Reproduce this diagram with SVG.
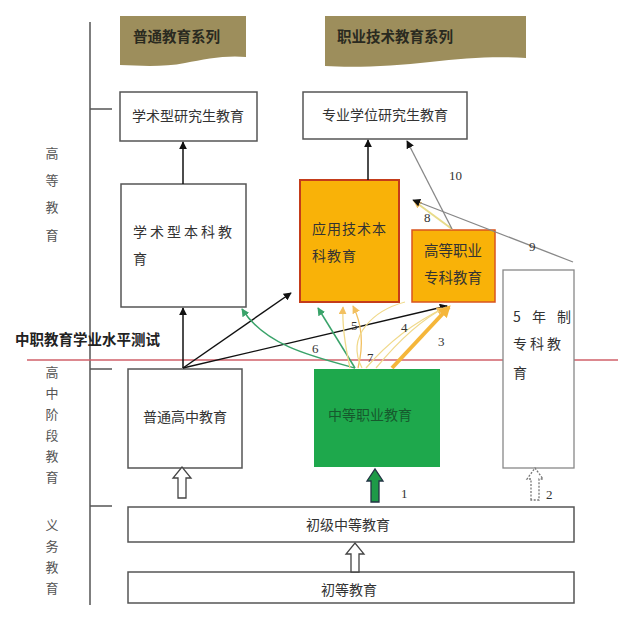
<svg xmlns="http://www.w3.org/2000/svg" width="640" height="632" viewBox="0 0 640 632">
<style>
text{font-family:"Noto Sans CJK SC","Liberation Sans",sans-serif;fill:#333;font-size:14px}
.box{fill:#fff;stroke:#555;stroke-width:1.5}
.lbl{font-size:13px;fill:#555}
.num{font-family:"Liberation Serif",serif;font-size:13px;fill:#333}
.ban{fill:#9d8e5c}
.bt{font-size:14.5px;font-weight:bold;fill:#2a2a20}
</style>
<defs>
<marker id="ab" viewBox="0 0 10 10" refX="9" refY="5" markerWidth="8" markerHeight="8" orient="auto" markerUnits="userSpaceOnUse"><path d="M0,0 L10,5 L0,10 Z" fill="#111"/></marker>
<marker id="ag" viewBox="0 0 10 10" refX="9" refY="5" markerWidth="8" markerHeight="8" orient="auto" markerUnits="userSpaceOnUse"><path d="M0,0 L10,5 L0,10 Z" fill="#3aa36a"/></marker>
<marker id="ay" viewBox="0 0 10 10" refX="9" refY="5" markerWidth="8" markerHeight="8" orient="auto" markerUnits="userSpaceOnUse"><path d="M0,0 L10,5 L0,10 Z" fill="#f2c060"/></marker>
<marker id="ao" viewBox="0 0 10 10" refX="8" refY="5" markerWidth="12" markerHeight="12" orient="auto" markerUnits="userSpaceOnUse"><path d="M0,0 L10,5 L0,10 Z" fill="#f5b63a"/></marker>
</defs>

<!-- frame -->
<g id="axis" stroke="#555" stroke-width="1.5" fill="none">
<line x1="90" y1="22" x2="90" y2="605"/>
<line x1="90" y1="109" x2="112" y2="109"/>
<line x1="90" y1="369" x2="112" y2="369"/>
<line x1="90" y1="506" x2="112" y2="506"/>
</g>
<g id="stage-labels" class="lbl">
<text class="lbl" x="52" y="158" text-anchor="middle">高</text>
<text class="lbl" x="52" y="185" text-anchor="middle">等</text>
<text class="lbl" x="52" y="212" text-anchor="middle">教</text>
<text class="lbl" x="52" y="240" text-anchor="middle">育</text>
<text class="lbl" x="52" y="377" text-anchor="middle">高</text>
<text class="lbl" x="52" y="398" text-anchor="middle">中</text>
<text class="lbl" x="52" y="419" text-anchor="middle">阶</text>
<text class="lbl" x="52" y="440" text-anchor="middle">段</text>
<text class="lbl" x="52" y="461" text-anchor="middle">教</text>
<text class="lbl" x="52" y="482" text-anchor="middle">育</text>
<text class="lbl" x="52" y="530" text-anchor="middle">义</text>
<text class="lbl" x="52" y="551" text-anchor="middle">务</text>
<text class="lbl" x="52" y="572" text-anchor="middle">教</text>
<text class="lbl" x="52" y="593" text-anchor="middle">育</text>
</g>

<line id="test-line" x1="27" y1="360" x2="618" y2="360" stroke="#d0606a" stroke-width="1.3"/>
<text x="15" y="345" style="font-size:14.5px;font-weight:bold;fill:#222">中职教育学业水平测试</text>

<!-- banners -->
<g id="banner-general">
<path class="ban" d="M120,16 L246,16 L246,57 C226,55 205,59 185,63 C165,67 142,66 120,65 Z"/>
<text class="bt" x="133" y="42">普通教育系列</text>
</g>
<g id="banner-vocational">
<path class="ban" d="M325,16 L526,16 L526,58 C495,56 465,58 430,62 C395,66 355,68 325,66 Z"/>
<text class="bt" x="337" y="42">职业技术教育系列</text>
</g>

<!-- nodes -->
<g id="academic-grad">
<rect class="box" x="120" y="92" width="137" height="49"/>
<text x="188" y="121" text-anchor="middle">学术型研究生教育</text>
</g>
<g id="professional-grad">
<rect class="box" x="303" y="92" width="164" height="47"/>
<text x="385" y="120" text-anchor="middle">专业学位研究生教育</text>
</g>
<g id="academic-bachelor">
<rect class="box" x="121" y="184" width="125" height="123"/>
<text x="133" y="237" letter-spacing="3">学术型本科教</text>
<text x="133" y="264">育</text>
</g>
<g id="applied-bachelor">
<rect x="300" y="180" width="99" height="122" fill="#f9b208" stroke="#c43c1a" stroke-width="2"/>
<text x="312" y="234" letter-spacing="1">应用技术本</text>
<text x="312" y="261" letter-spacing="1">科教育</text>
</g>
<g id="higher-vocational">
<rect x="412" y="230" width="83" height="72" fill="#f9b208" stroke="#d9541e" stroke-width="1.5"/>
<text x="424" y="256" style="font-size:14.5px">高等职业</text>
<text x="424" y="283" style="font-size:14.5px">专科教育</text>
</g>
<g id="five-year">
<rect x="503" y="270" width="71" height="198" fill="#fff" stroke="#888" stroke-width="1.3"/>
<text x="513" y="322" letter-spacing="4">5 年 制</text>
<text x="513" y="349" letter-spacing="3">专科教</text>
<text x="513" y="378">育</text>
</g>
<g id="general-high">
<rect class="box" x="128" y="369" width="114" height="99"/>
<text x="185" y="422" text-anchor="middle">普通高中教育</text>
</g>
<g id="secondary-vocational">
<rect x="314" y="369" width="126" height="98" fill="#1ea84c"/>
<text x="370" y="420" text-anchor="middle" style="fill:#16592d">中等职业教育</text>
</g>
<g id="junior-secondary">
<rect class="box" x="128" y="507" width="446" height="35"/>
<text x="306" y="530">初级中等教育</text>
</g>
<g id="primary">
<rect class="box" x="128" y="572" width="446" height="31"/>
<text x="321" y="595">初等教育</text>
</g>

<!-- connectors -->
<g id="connectors" fill="none">
<line x1="183" y1="184" x2="183" y2="142" stroke="#111" stroke-width="1.5" marker-end="url(#ab)"/>
<line x1="368" y1="180" x2="368" y2="140" stroke="#111" stroke-width="1.5" marker-end="url(#ab)"/>
<line x1="183" y1="368" x2="183" y2="308" stroke="#111" stroke-width="1.5" marker-end="url(#ab)"/>
<line x1="183" y1="368" x2="291" y2="293" stroke="#111" stroke-width="1.5" marker-end="url(#ab)"/>
<line x1="183" y1="368" x2="447" y2="306" stroke="#111" stroke-width="1.3" marker-end="url(#ab)"/>
<!-- green -->
<path d="M355,368 C310,356 265,345 242,309" stroke="#3aa36a" stroke-width="1.5" marker-end="url(#ag)"/>
<line x1="355" y1="368" x2="318" y2="308" stroke="#3aa36a" stroke-width="1.5" marker-end="url(#ag)"/>
<!-- yellow thin -->
<path d="M350,368 C345,345 342,325 343,307" stroke="#f0d98a" stroke-width="1.3" marker-end="url(#ay)"/>
<path d="M358,368 C365,340 360,320 353,306" stroke="#f2c060" stroke-width="1.3" marker-end="url(#ay)"/>
<path d="M362,368 C345,335 375,310 405,302" stroke="#f0d98a" stroke-width="1.2"/>
<path d="M366,368 C390,340 415,322 444,308" stroke="#f0d98a" stroke-width="1.3" marker-end="url(#ay)"/>
<path d="M376,368 C395,345 420,320 446,307" stroke="#f0d98a" stroke-width="1.2"/>
<!-- thick orange 3 -->
<line x1="392" y1="368" x2="449" y2="307" stroke="#f5b63a" stroke-width="4" marker-end="url(#ao)"/>
<!-- 8, 9, 10 -->
<line x1="452" y1="229" x2="414" y2="201" stroke="#e8dc8a" stroke-width="2" marker-end="url(#ay)"/>
<line x1="573" y1="262" x2="413" y2="200" stroke="#888" stroke-width="1.3" marker-end="url(#ab)"/>
<line x1="452" y1="229" x2="407" y2="141" stroke="#888" stroke-width="1.3" marker-end="url(#ab)"/>
</g>

<!-- block arrows -->
<g id="block-arrows" stroke-width="1.3">
<path d="M178,498 L178,478 L173,478 L182,467 L191,478 L186,478 L186,498 Z" fill="#fff" stroke="#444"/>
<path d="M351,572 L351,554 L346,554 L355,543 L364,554 L359,554 L359,572 Z" fill="#fff" stroke="#444"/>
<path d="M371,502 L371,481 L367,481 L375,469 L383,481 L379,481 L379,502 Z" fill="#1e9a48" stroke="#234"/>
<path d="M531,500 L531,479 L527,479 L535,468 L543,479 L539,479 L539,500 Z" fill="#fff" stroke="#777" stroke-dasharray="2,1.5"/>
</g>

<!-- numbers -->
<g id="numbers">
<text class="num" x="401" y="498">1</text>
<text class="num" x="546" y="499">2</text>
<text class="num" x="438" y="346">3</text>
<text class="num" x="401" y="332">4</text>
<text class="num" x="351" y="330">5</text>
<text class="num" x="312" y="353">6</text>
<text class="num" x="367" y="362">7</text>
<text class="num" x="424" y="222">8</text>
<text class="num" x="529" y="251">9</text>
<text class="num" x="449" y="180">10</text>
</g>
</svg>
